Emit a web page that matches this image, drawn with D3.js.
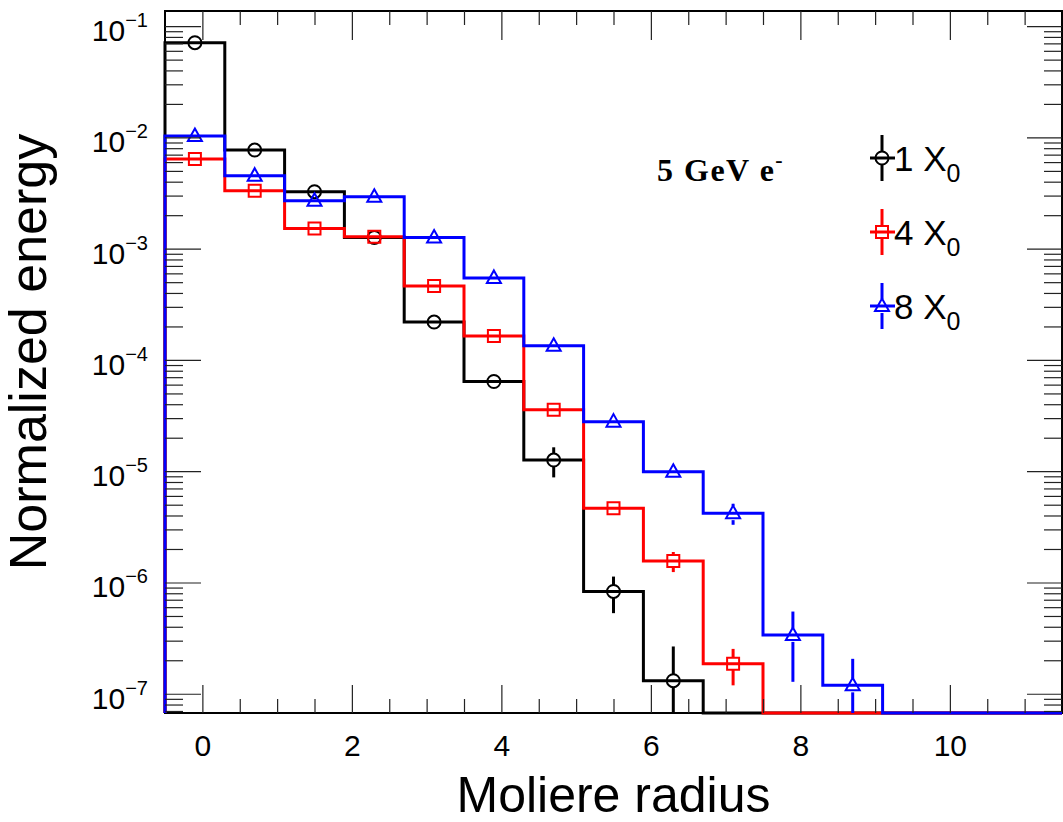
<!DOCTYPE html>
<html>
<head>
<meta charset="utf-8">
<script src="https://cdn.jsdelivr.net/npm/d3@7"></script>
<style>
  body { margin: 0; background: #fff; }
  svg { display: block; }
</style>
</head>
<body>
<svg></svg>
<script>
const width = 1063;
const height = 822;

// bin centres (Moliere radius), bins are 0.8 wide
const radius = [-0.1, 0.7, 1.5, 2.3, 3.1, 3.9, 4.7, 5.5, 6.3, 7.1, 7.9, 8.7, 9.5, 10.3, 11.1];
const binWidth = 0.8;

const energy1X0 = [7.1e-2, 7.7e-3, 3.25e-3, 1.26e-3, 2.19e-4, 6.4e-5, 1.26e-5, 8.3e-7, 1.31e-7, 0, 0, 0, 0, 0, 0];
const error1X0  = [0, 0, 0, 0, 0, 0, 3.8e-6, 3.0e-7, 1.35e-7, 0, 0, 0, 0, 0, 0];

const energy4X0 = [6.4e-3, 3.32e-3, 1.52e-3, 1.28e-3, 4.62e-4, 1.64e-4, 3.56e-5, 4.65e-6, 1.56e-6, 1.86e-7, 0, 0, 0, 0, 0];
const error4X0  = [0, 0, 0, 0, 0, 0, 0, 0, 3.2e-7, 6.7e-8, 0, 0, 0, 0, 0];

const energy8X0 = [1.03e-2, 4.53e-3, 2.70e-3, 2.93e-3, 1.26e-3, 5.46e-4, 1.34e-4, 2.79e-5, 9.9e-6, 4.2e-6, 3.38e-7, 1.19e-7, 0, 0, 0];
const error8X0  = [0, 0, 0, 0, 0, 0, 0, 0, 0, 9e-7, 2.1e-7, 8.7e-8, 0, 0, 0];

const seriesNames = ['1', '4', '8'];
const colors = ['#000000', '#ff0000', '#0000ff'];
const markers = ['circle', 'square', 'triangle'];

const xTicksMajor = [0, 2, 4, 6, 8, 10];
const yDecades = [-7, -6, -5, -4, -3, -2, -1];

const series = [
  { name: seriesNames[0], values: energy1X0, errors: error1X0, color: colors[0], marker: markers[0] },
  { name: seriesNames[1], values: energy4X0, errors: error4X0, color: colors[1], marker: markers[1] },
  { name: seriesNames[2], values: energy8X0, errors: error8X0, color: colors[2], marker: markers[2] }
];

const frame = { left: 165, right: 1062, top: 11, bottom: 713 };
const font = '"Liberation Sans", Arial, Helvetica, sans-serif';

const svg = d3.select('svg')
  .attr('width', width)
  .attr('height', height)
  .style('font-family', font);

const x = d3.scaleLinear().domain([-0.5, 11.5]).range([frame.left, frame.right]);
const y = d3.scaleLog().domain([Math.pow(10, -7.173), Math.pow(10, -0.864)]).range([frame.bottom, frame.top]);
const yv = v => v > y.domain()[0] ? y(v) : frame.bottom;

svg.append('rect')
  .attr('x', frame.left).attr('y', frame.top)
  .attr('width', frame.right - frame.left).attr('height', frame.bottom - frame.top)
  .attr('fill', 'none').attr('stroke', '#000').attr('stroke-width', 2);

svg.append('clipPath').attr('id', 'clip')
  .append('rect')
  .attr('x', frame.left - 2).attr('y', frame.top)
  .attr('width', frame.right - frame.left + 4).attr('height', frame.bottom - frame.top + 2);

const line = d3.line().x(d => x(d[0])).y(d => yv(d[1]));

function markerPath(type) {
  if (type === 'circle') return d3.symbol(d3.symbolCircle, Math.PI * 6.5 * 6.5)();
  if (type === 'square') return d3.symbol(d3.symbolSquare, 12 * 12)();
  return `M0,${-7.5}L${7},${5}L${-7},${5}Z`;
}
const markerHalf = { circle: 6.5, square: 6, triangle: 7 };

const plot = svg.append('g').attr('clip-path', 'url(#clip)');

series.forEach(s => {
  const pts = [[x.domain()[0], 0]];
  s.values.forEach((v, i) => {
    pts.push([radius[i] - binWidth / 2, v]);
    pts.push([radius[i] + binWidth / 2, v]);
  });
  pts.push([x.domain()[1], 0]);

  const g = plot.append('g');
  g.append('path')
    .attr('d', line(pts))
    .attr('fill', 'none')
    .attr('stroke', s.color)
    .attr('stroke-width', 3);

  const idx = d3.range(s.values.length).filter(i => s.values[i] > 0);
  const h = markerHalf[s.marker];

  // error bars, drawn outside the marker
  idx.filter(i => s.errors[i] > 0).forEach(i => {
    const cx = x(radius[i]);
    const cy = yv(s.values[i]);
    const top = yv(s.values[i] + s.errors[i]);
    const lo = s.values[i] - s.errors[i];
    const bot = lo > 0 ? yv(lo) : frame.bottom;
    if (cy - h > top) {
      g.append('line').attr('x1', cx).attr('x2', cx).attr('y1', top).attr('y2', cy - h)
        .attr('stroke', s.color).attr('stroke-width', 3);
    }
    if (bot > cy + h) {
      g.append('line').attr('x1', cx).attr('x2', cx).attr('y1', cy + h).attr('y2', bot)
        .attr('stroke', s.color).attr('stroke-width', 3);
    }
  });

  g.selectAll('path.marker')
    .data(idx)
    .join('path')
    .attr('class', 'marker')
    .attr('d', markerPath(s.marker))
    .attr('transform', i => `translate(${x(radius[i])},${yv(s.values[i])})`)
    .attr('fill', 'none')
    .attr('stroke', s.color)
    .attr('stroke-width', 2);
});

// axes ticks (ROOT style: inside the frame, on all four sides)
const xMinor = d3.range(-0.5, 11.51, 0.5).filter(v => !xTicksMajor.includes(v) && v > -0.5 && v < 11.5);
const yMinor = [];
yDecades.concat([-8]).forEach(p => {
  for (let k = 2; k <= 9; k++) {
    const v = k * Math.pow(10, p);
    if (v > y.domain()[0] && v < y.domain()[1]) yMinor.push(v);
  }
});

function styleAxis(g) {
  g.select('.domain').remove();
  g.selectAll('.tick line').attr('stroke', '#222').attr('stroke-width', 1.2);
}

svg.append('g').attr('transform', `translate(0,${frame.bottom})`)
  .call(d3.axisBottom(x).tickValues(xMinor).tickSize(-14).tickFormat(''))
  .call(styleAxis);
svg.append('g').attr('transform', `translate(0,${frame.bottom})`)
  .call(d3.axisBottom(x).tickValues(xTicksMajor).tickSize(-28).tickPadding(22).tickFormat(d3.format('d')))
  .call(styleAxis)
  .call(g => g.selectAll('text').attr('font-size', 30).attr('fill', '#000').style('font-family', font));
svg.append('g').attr('transform', `translate(0,${frame.top})`)
  .call(d3.axisTop(x).tickValues(xMinor).tickSize(-14).tickFormat(''))
  .call(styleAxis);
svg.append('g').attr('transform', `translate(0,${frame.top})`)
  .call(d3.axisTop(x).tickValues(xTicksMajor).tickSize(-29).tickFormat(''))
  .call(styleAxis);

const yMajor = yDecades.map(p => Math.pow(10, p));
svg.append('g').attr('transform', `translate(${frame.left},0)`)
  .call(d3.axisLeft(y).tickValues(yMinor).tickSize(-18).tickFormat(''))
  .call(styleAxis);
svg.append('g').attr('transform', `translate(${frame.left},0)`)
  .call(d3.axisLeft(y).tickValues(yMajor).tickSize(-36).tickFormat(''))
  .call(styleAxis);
svg.append('g').attr('transform', `translate(${frame.right},0)`)
  .call(d3.axisRight(y).tickValues(yMinor).tickSize(-18).tickFormat(''))
  .call(styleAxis);
svg.append('g').attr('transform', `translate(${frame.right},0)`)
  .call(d3.axisRight(y).tickValues(yMajor).tickSize(-35).tickFormat(''))
  .call(styleAxis);

// y tick labels 10^n
const yLab = svg.append('g').selectAll('text')
  .data(yDecades)
  .join('text')
  .attr('x', 148)
  .attr('y', p => y(Math.pow(10, p)) + 15)
  .attr('text-anchor', 'end')
  .attr('font-size', 30)
  .attr('fill', '#000');
yLab.append('tspan').text('10');
yLab.append('tspan')
  .attr('dy', -14)
  .attr('font-size', 20)
  .text(p => '\u2212' + Math.abs(p));

// axis titles
svg.append('text')
  .attr('x', (frame.left + frame.right) / 2)
  .attr('y', 812)
  .attr('text-anchor', 'middle')
  .attr('font-size', 50)
  .text('Moliere radius');

svg.append('text')
  .attr('transform', `translate(46,${352}) rotate(-90)`)
  .attr('text-anchor', 'middle')
  .attr('font-size', 52)
  .text('Normalized energy');

// annotation
const ann = svg.append('text')
  .attr('x', 657)
  .attr('y', 181)
  .attr('font-family', '"Liberation Serif", "Times New Roman", serif')
  .attr('font-weight', 'bold')
  .attr('font-size', 32)
  .attr('letter-spacing', 1.5);
ann.append('tspan').text('5 GeV e');
ann.append('tspan').attr('dy', -14).attr('font-size', 22).text('-');

// legend
const legend = svg.append('g');
series.forEach((s, i) => {
  const lx = 882;
  const ly = 158 + i * 74;
  const h = markerHalf[s.marker];
  const g = legend.append('g').attr('transform', `translate(${lx},${ly})`);
  g.append('line').attr('x1', -12).attr('x2', 13).attr('y1', 0).attr('y2', 0)
    .attr('stroke', s.color).attr('stroke-width', 3);
  g.append('line').attr('x1', 0).attr('x2', 0).attr('y1', -23).attr('y2', -h)
    .attr('stroke', s.color).attr('stroke-width', 3);
  g.append('line').attr('x1', 0).attr('x2', 0).attr('y1', h).attr('y2', 23)
    .attr('stroke', s.color).attr('stroke-width', 3);
  g.append('path').attr('d', markerPath(s.marker))
    .attr('fill', 'none')
    .attr('stroke', s.color).attr('stroke-width', 2);
  const t = g.append('text')
    .attr('x', 12)
    .attr('y', 13)
    .attr('font-size', 35)
    .attr('fill', '#000');
  t.append('tspan').text(s.name + ' X');
  t.append('tspan').attr('dy', 11).attr('font-size', 25).text('0');
});
</script>
</body>
</html>
